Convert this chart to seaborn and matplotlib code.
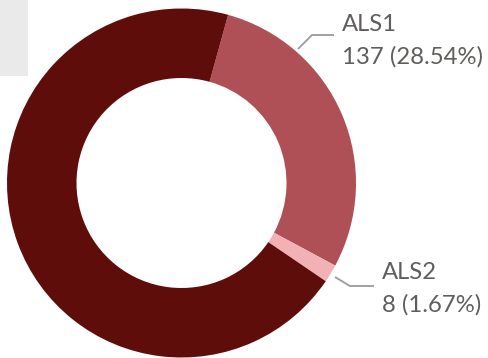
import matplotlib
matplotlib.use("Agg")
import matplotlib.pyplot as plt
from matplotlib.patches import Rectangle
import seaborn as sns

# Slice data (clockwise order, starting just right of 12 o'clock)
categories = ["ALS1", "ALS2", "Other"]
counts = [137, 8, 335]
colors = ["#AE5055", "#F2B1B5", "#5F0D0B"]
shown_labels = ["ALS1", "ALS2"]

sns.set_theme(style="white")
plt.rcParams["font.family"] = ["Lato", "DejaVu Sans"]

W, H = 489, 358
fig = plt.figure(figsize=(W / 100, H / 100), dpi=100)
ax = fig.add_axes([0, 0, 1, 1])

cx, cy = 181.5, H - 183
r_out, r_in = 174.5, 105

wedges, _ = ax.pie(
    counts,
    colors=colors,
    startangle=74.5,
    counterclock=False,
    radius=r_out,
    center=(cx, cy),
    wedgeprops=dict(width=r_out - r_in, linewidth=0),
    frame=True,
)
ax.set_xlim(0, W)
ax.set_ylim(0, H)
ax.set_aspect("equal")
ax.axis("off")

# light grey panel in the top-left corner
ax.add_patch(Rectangle((0, H - 76), 28, 76, color="#EAEAEA", zorder=0, linewidth=0))

total = sum(counts)
text_color = "#605E5C"
line_color = "#A0A0A0"

# pick a font size so the widest value label spans about 141 px
renderer = fig.canvas.get_renderer()
probe = ax.text(0, 0, "137 (28.54%)", fontsize=18)
w18 = probe.get_window_extent(renderer).width
probe.remove()
fs = 18 * 141 / w18

# (leader line points, text x, first baseline y) in pixel-from-top coordinates
placements = {
    "ALS1": ([(298, 49), (312, 35), (334, 35)], 342, 31),
    "ALS2": ([(335, 277), (350, 286), (374, 286)], 382, 279),
}
for name in shown_labels:
    i = categories.index(name)
    pts, tx, ty = placements[name]
    ax.plot([p[0] for p in pts], [H - p[1] for p in pts], color=line_color, lw=1.4,
            solid_capstyle="butt")
    pct = counts[i] / total * 100
    ax.text(tx, H - ty, name, color=text_color, fontsize=fs, va="baseline", ha="left")
    ax.text(tx, H - ty - 33, f"{counts[i]} ({pct:.2f}%)", color=text_color,
            fontsize=fs, va="baseline", ha="left")

fig.savefig("out.png", dpi=100)
